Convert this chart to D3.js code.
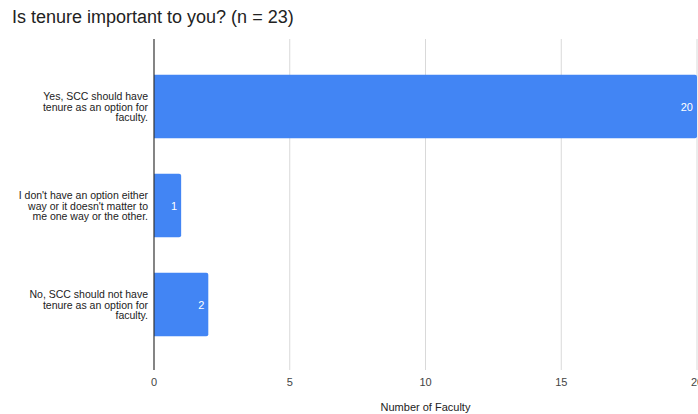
<!DOCTYPE html>
<html>
<head>
<meta charset="utf-8">
<script src="https://cdn.jsdelivr.net/npm/d3@7/dist/d3.min.js"></script>
<style>
  body { margin: 0; background: #fff; }
  svg { display: block; font-family: "Liberation Sans", Arial, sans-serif; }
</style>
</head>
<body>
<div id="chart"></div>
<script>
const categories = [
  ["Yes, SCC should have", "tenure as an option for", "faculty."],
  ["I don't have an option either", "way or it doesn't matter to", "me one way or the other."],
  ["No, SCC should not have", "tenure as an option for", "faculty."]
];
const values = [20, 1, 2];
const xTicks = [0, 5, 10, 15, 20];
const title = "Is tenure important to you? (n = 23)";
const xTitle = "Number of Faculty";

const W = 698, H = 414;
const svg = d3.select("#chart").append("svg").attr("width", W).attr("height", H);

const x = d3.scaleLinear().domain([0, 20]).range([154, 697]);
const y = d3.scaleBand().domain(d3.range(categories.length)).range([57, 354]).paddingInner(0.36).paddingOuter(0.18);

svg.append("text").attr("x", 12).attr("y", 23).attr("font-size", 18).attr("fill", "#222").text(title);

// gridlines
svg.append("g").selectAll("line").data(xTicks.filter(d => d !== 0)).join("line")
  .attr("x1", d => x(d)).attr("x2", d => x(d))
  .attr("y1", 39).attr("y2", 370)
  .attr("stroke", "#d9d9d9").attr("stroke-width", 1);

// bars
svg.append("g").selectAll("path").data(values).join("path")
  .attr("d", (d, i) => {
    const x0 = x(0), x1 = x(d), y0 = y(i), h = y.bandwidth(), r = 2;
    return `M${x0},${y0}H${x1 - r}Q${x1},${y0} ${x1},${y0 + r}V${y0 + h - r}Q${x1},${y0 + h} ${x1 - r},${y0 + h}H${x0}Z`;
  })
  .attr("fill", "#4285F4");

// value labels
svg.append("g").selectAll("text").data(values).join("text")
  .attr("x", d => x(d) - 4)
  .attr("y", (d, i) => y(i) + y.bandwidth() / 2 + 4)
  .attr("text-anchor", "end").attr("font-size", 11).attr("fill", "#fff")
  .text(d => d);

// baseline axis
svg.append("line").attr("x1", x(0)).attr("x2", x(0)).attr("y1", 39).attr("y2", 370)
  .attr("stroke", "#333").attr("stroke-width", 1.2);

// x tick labels
svg.append("g").selectAll("text").data(xTicks).join("text")
  .attr("x", d => x(d)).attr("y", 386)
  .attr("text-anchor", "middle").attr("font-size", 11).attr("fill", "#444")
  .text(d => d);

// x title
svg.append("text").attr("x", x(10)).attr("y", 411).attr("text-anchor", "middle")
  .attr("font-size", 11).attr("fill", "#222").text(xTitle);

// category labels
const cat = svg.append("g").selectAll("text").data(categories).join("text")
  .attr("text-anchor", "end").attr("font-size", 10.5).attr("fill", "#222");
cat.each(function(lines, i) {
  const cy = y(i) + y.bandwidth() / 2;
  const lh = 10.5;
  d3.select(this).selectAll("tspan").data(lines).join("tspan")
    .attr("x", 148)
    .attr("y", (l, j) => cy + (j - (lines.length - 1) / 2) * lh + 4)
    .text(l => l);
});
</script>
</body>
</html>
